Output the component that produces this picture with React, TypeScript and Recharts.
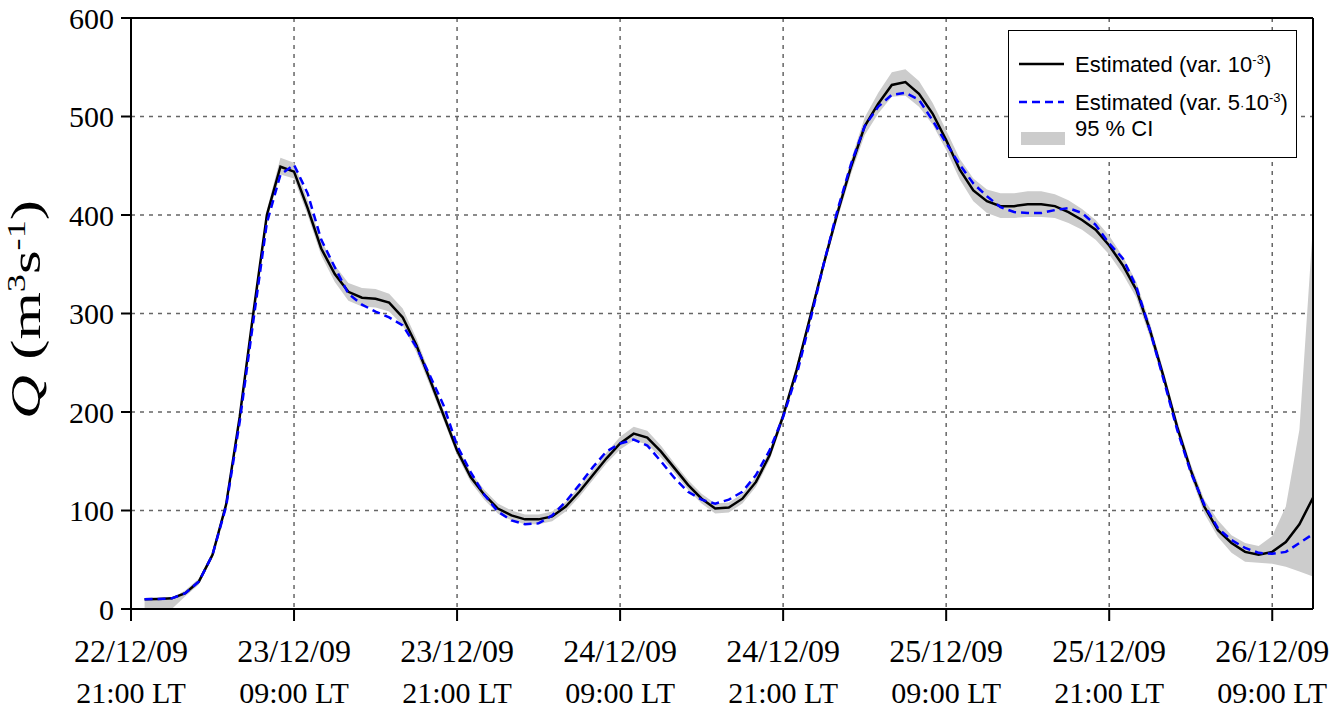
import React from 'react';
import { ComposedChart, Line, Area, XAxis, YAxis, CartesianGrid, ReferenceLine, Legend } from 'recharts';

// hours after 22/12/09 21:00 LT
const hours = [1,2,3,4,5,6,7,8,9,10,11,12,13,14,15,16,17,18,19,20,21,22,23,24,25,26,27,28,29,30,31,32,33,34,35,36,37,38,39,40,41,42,43,44,45,46,47,48,49,50,51,52,53,54,55,56,57,58,59,60,61,62,63,64,65,66,67,68,69,70,71,72,73,74,75,76,77,78,79,80,81,82,83,84,85,86,87];

const estVar1 = [9.8,10.2,10.8,16,28,55,106,195,300,400,449,444,407,366,340,322,316,315,311,296,268,233,197,161,134,116,102,95,91,91,94,104,119,136,153,168,178,174,160,143,126,112,102,103,112,129,156,196,243,297,351,402,449,490,513,532,535,523,503,476,446,425,414,409,409,411,411,409,403,395,385,369,349,324,283,236,185,141,104,80,67,58,55,58,68,86,113];

const estVar5 = [9.8,10.2,10.8,16,28,55,104,190,292,392,441,451,422,375,347,320,309,302,296,288,266,237,207,166,139,116,99,90,86,87,95,109,126,144,160,168,172,166,150,133,119,111,107,111,119,136,161,195,238,293,351,405,452,490,510,522,524,517,496,473,451,432,419,408,403,402,402,405,407,402,390,371,356,327,283,233,182,139,106,82,70,62,57,56,58,67,76];

const ciLower = [0,0,0,13,25,52,102,191,296,395,441,437,400,359,332,313,307,306,302,288,261,227,192,156,129,111,97,90,86,86,89,99,114,131,148,162,171,167,154,138,121,107,97,98,107,124,151,191,238,292,346,396,442,481,503,520,521,510,492,466,436,414,402,397,397,398,398,397,392,385,375,360,340,316,276,230,179,135,97,73,57,48,47,46,43,38,33];

const ciUpper = [9.8,10.2,10.8,19,31,58,110,199,304,405,458,453,415,374,349,331,326,325,320,305,275,239,202,166,139,121,107,100,96,96,99,109,124,141,159,175,185,181,166,148,131,117,107,108,117,134,161,201,248,302,356,408,456,499,524,545,548,536,514,486,457,437,426,422,422,424,424,421,415,406,395,379,358,332,290,242,191,147,111,90,75,67,64,74,104,182,390];

const tickHours = [0, 12, 24, 36, 48, 60, 72, 84];
const tickDates = ['22/12/09', '23/12/09', '23/12/09', '24/12/09', '24/12/09', '25/12/09', '25/12/09', '26/12/09'];
const tickTimes = ['21:00 LT', '09:00 LT', '21:00 LT', '09:00 LT', '21:00 LT', '09:00 LT', '21:00 LT', '09:00 LT'];
const yTicks = [0, 100, 200, 300, 400, 500, 600];

const data = hours.map((t, i) => ({
  t,
  est1: estVar1[i],
  est2: estVar5[i],
  ci: [ciLower[i], ciUpper[i]],
}));

const SERIF = '"Liberation Serif", "Times New Roman", serif';
const SANS = '"Liberation Sans", Arial, sans-serif';

const XTick = (props: any) => {
  const { x, y, payload } = props;
  const i = tickHours.indexOf(payload.value);
  return (
    <text x={x} y={y} textAnchor="middle" fontFamily={SERIF} fill="#000">
      <tspan x={x} dy={39} fontSize={32}>{tickDates[i]}</tspan>
      <tspan x={x} dy={41} fontSize={30}>{tickTimes[i]}</tspan>
    </text>
  );
};

const YLabel = (props: any) => {
  const vb = props.viewBox || { x: 0, y: 18, width: 131, height: 591 };
  const cx = vb.x + 40;
  const cy = vb.y + vb.height / 2 - 4;
  return (
    <text
      transform={`translate(${cx},${cy}) rotate(-90) scale(1.45,1)`}
      textAnchor="middle"
      fontFamily={SERIF}
      fontSize={42}
      fill="#000"
    >
      <tspan fontStyle="italic">Q</tspan>
      <tspan> (m</tspan>
      <tspan fontSize={25} dy={-15}>3</tspan>
      <tspan dy={15}>s</tspan>
      <tspan fontSize={25} dy={-15}>-1</tspan>
      <tspan dy={15}>)</tspan>
    </text>
  );
};

const LegendBox = () => (
  <div
    style={{
      width: 289,
      height: 128,
      border: '1.5px solid #000',
      boxSizing: 'border-box',
      background: '#fff',
      position: 'relative',
      fontFamily: SANS,
      fontSize: 22,
      color: '#000',
      lineHeight: '24px',
    }}
  >
    <svg width={60} height={128} style={{ position: 'absolute', left: 0, top: 0 }}>
      <line x1={10} x2={55} y1={33} y2={33} stroke="#000" strokeWidth={2.5} />
      <line x1={10} x2={55} y1={71} y2={71} stroke="#0000ff" strokeWidth={2.5} strokeDasharray="8 5" />
      <rect x={12} y={101} width={44} height={13} fill="#cccccc" />
    </svg>
    <div style={{ position: 'absolute', left: 66, top: 22, whiteSpace: 'nowrap' }}>
      Estimated (var. 10<span style={{ fontSize: 13, position: 'relative', top: -8 }}>-3</span>)
    </div>
    <div style={{ position: 'absolute', left: 66, top: 60, whiteSpace: 'nowrap' }}>
      Estimated (var. 5<span style={{ fontSize: 13 }}>·</span>10<span style={{ fontSize: 13, position: 'relative', top: -8 }}>-3</span>)
    </div>
    <div style={{ position: 'absolute', left: 66, top: 86, whiteSpace: 'nowrap' }}>95 % CI</div>
  </div>
);

export default function App() {
  return (
    <div style={{ position: 'absolute', left: 0, top: 0, background: '#fff' }}>
      <ComposedChart
        width={1330}
        height={715}
        data={data}
        margin={{ top: 18, right: 17, left: 0, bottom: 0 }}
      >
        <CartesianGrid stroke="#666" strokeWidth={1.5} strokeDasharray="4 5" />
        <XAxis
          dataKey="t"
          type="number"
          domain={[0, 87]}
          ticks={tickHours}
          interval={0}
          height={106}
          tickSize={12}
          axisLine={{ stroke: '#000', strokeWidth: 2 }}
          tickLine={{ stroke: '#000', strokeWidth: 2 }}
          tick={<XTick />}
        />
        <YAxis
          type="number"
          domain={[0, 600]}
          ticks={yTicks}
          interval={0}
          width={131}
          tickSize={10}
          tickMargin={7}
          axisLine={{ stroke: '#000', strokeWidth: 2 }}
          tickLine={{ stroke: '#000', strokeWidth: 2 }}
          tick={{ fontFamily: SERIF, fontSize: 30, fill: '#000' }}
          label={<YLabel />}
        />
        <Area
          type="linear"
          dataKey="ci"
          stroke="none"
          fill="#cccccc"
          fillOpacity={1}
          isAnimationActive={false}
          legendType="none"
        />
        <Line
          type="linear"
          dataKey="est1"
          stroke="#000"
          strokeWidth={2.5}
          dot={false}
          activeDot={false}
          isAnimationActive={false}
        />
        <Line
          type="linear"
          dataKey="est2"
          stroke="#0000ff"
          strokeWidth={2.5}
          strokeDasharray="8 5"
          dot={false}
          activeDot={false}
          isAnimationActive={false}
        />
        <ReferenceLine y={600} stroke="#000" strokeWidth={2} />
        <ReferenceLine x={87} stroke="#000" strokeWidth={2} />
        <Legend
          layout="vertical"
          align="center"
          verticalAlign="middle"
          content={<LegendBox />}
          wrapperStyle={{ position: 'absolute', left: 1008, top: 30, width: 289, height: 128 }}
        />
      </ComposedChart>
    </div>
  );
}
